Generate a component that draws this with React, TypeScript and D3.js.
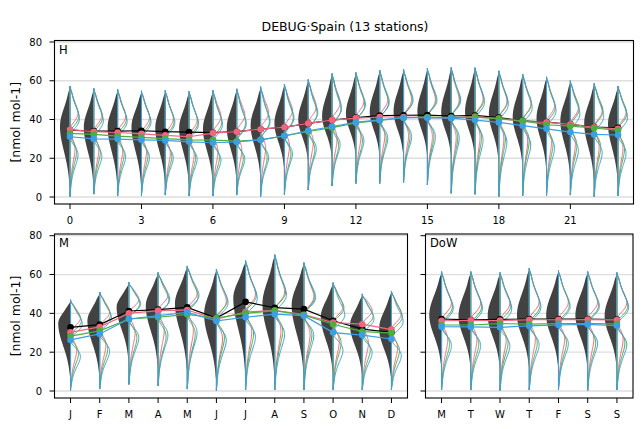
import React from "react";
import * as d3 from "d3";

// ---- categories / ticks ----
const hourTicks = [0, 3, 6, 9, 12, 15, 18, 21];
const monthLabels = ["J", "F", "M", "A", "M", "J", "J", "A", "S", "O", "N", "D"];
const dayLabels = ["M", "T", "W", "T", "F", "S", "S"];
const yTicks = [0, 20, 40, 60, 80];

// ---- hour of day (H) ----
const hourObs = [34.5, 34, 34, 34.2, 33.7, 33.5, 33.2, 33.7, 35, 36, 38, 39.7, 41, 42, 42.2, 42.3, 41.8, 42.1, 41, 39.3, 38.7, 37.5, 36.1, 35.7];
const hourModA = [34.7, 33.7, 33.3, 32.6, 31.8, 31.1, 33, 33.7, 35, 36, 38, 39.7, 40.7, 41.3, 41.3, 41, 40.8, 41.5, 40.5, 39, 38.5, 37.5, 36, 35.2];
const hourModB = [32.8, 32.3, 31.4, 30.8, 30.1, 29.5, 29.4, 28.8, 29.5, 31.5, 33.8, 35.8, 38.3, 39.5, 40.9, 41.2, 41, 41.2, 40.5, 39.3, 37.3, 36.6, 35.6, 34.4];
const hourModC = [31.1, 30, 29.9, 29.5, 29.2, 28.5, 28, 28.4, 29.5, 31.6, 34.2, 36.4, 38.5, 39.8, 40.9, 40.9, 40.7, 39.7, 38.5, 36.8, 35.2, 33.5, 32.3, 32];
const hourMax = [57.2, 56, 55.5, 54.8, 55, 54.5, 55, 55.8, 56.9, 58.2, 60.6, 63.7, 64.2, 65.4, 65.8, 66.3, 66.8, 66.7, 65.1, 63.4, 62, 60, 58.6, 57.2];
const hourObsLow = [3, 4, 4, 4, 5, 5, 6, 7, 9, 13, 17, 19, 20, 20, 20, 20, 20, 19, 17, 15, 13, 9, 7, 6];
const hourModLow = [0.2, 1.5, 0.5, 0.5, 1, 0.5, 0.5, 1, 0.2, 1.3, 3.6, 5.7, 7, 7, 7.5, 6.2, 1.9, 1.4, 0.2, 0.7, 0.5, 1, 0.2, 0.7];

// ---- month (M) ----
const monthObs = [32.8, 34.2, 41.2, 41.9, 43.1, 37.6, 45.9, 42.9, 42.2, 36.2, 31.9, 30.2];
const monthModA = [30.2, 33, 40, 41.4, 41.7, 37, 40.7, 41.5, 39.3, 35.3, 34.4, 31.6];
const monthModB = [28.3, 31, 37.1, 38, 39.5, 37.6, 40, 41.4, 39.1, 34.4, 30.6, 29.9];
const monthModC = [26.3, 29.4, 37.1, 38.8, 40.5, 36.1, 38, 39.6, 38.8, 30.1, 28.8, 26.8];
const monthMax = [47, 51, 56, 61, 64.4, 62.7, 67.1, 70.2, 66.1, 55.8, 50, 51.5];
const monthObsLow = [5, 6, 14, 11, 9, 4, 7, 6, 7, 8, 7, 5];
const monthModLow = [0.3, 1, 3.4, 2.6, 1, 0.3, 0.5, 0.5, 0.5, 0.5, 0.5, 0.5];

// ---- day of week (DoW) ----
const dayObs = [37.1, 36.6, 36.9, 37.1, 37.1, 37, 36.8];
const dayModA = [36.2, 36.4, 36.3, 36.7, 36.7, 36.8, 36.6];
const dayModB = [34, 34, 34.7, 34.5, 34.7, 34.7, 34.6];
const dayModC = [33.1, 33, 32.8, 33.5, 34, 34.3, 33.6];
const dayMax = [61.5, 61.5, 61, 63.2, 62, 61.5, 61];
const dayObsLow = [11, 11, 11, 11, 11, 11, 11];
const dayModLow = [0.5, 0.5, 0.3, 0.5, 0.5, 0.3, 0.5];

// ---- styling ----
const FONT = "DejaVu Sans, sans-serif";
const OBS_FILL = "#424242";
const MODELS = [
  { key: "a", color: "#f2657f", up: 0.8, low: 0.5 },
  { key: "b", color: "#4daf3b", up: 0.88, low: 0.65 },
  { key: "c", color: "#3b9fe3", up: 0.95, low: 0.8 },
];

const gauss = (d: number, s: number) => Math.exp(-0.5 * (d / s) * (d / s));
const taper = (v: number, lo: number, hi: number) => {
  const a = Math.max(0, hi - v);
  const b = Math.max(0, v - lo);
  return (1 - Math.exp(-(a / 2) * (a / 2))) * (1 - Math.exp(-(b / 2) * (b / 2)));
};
const samples = (lo: number, hi: number, n = 120) => d3.range(n + 1).map((i) => hi - ((hi - lo) * i) / n);

// observed half-violin profile (left side), normalised to 1 at its widest
function obsProfile(med: number, lo: number, hi: number) {
  const peak = med + 2;
  const sUp = Math.max(4, (hi - peak) / 2.2);
  const sDn = Math.max(4, (peak - lo) / 2.6);
  const vs = samples(lo, hi);
  const raw = vs.map((v) => (v >= peak ? gauss(v - peak, sUp) : gauss(v - peak, sDn)) * taper(v, lo, hi));
  const m = d3.max(raw) || 1;
  return vs.map((v, i) => [v, raw[i] / m] as [number, number]);
}

// modelled half-violin profile (right side), pinched at its median
function modProfile(med: number, lo: number, hi: number, up: number, low: number) {
  const sUp = Math.max(4, (hi - med) / 2.4);
  const sDn = Math.max(4, (med - lo) / 2.8);
  const notch = 5;
  const vs = samples(lo, hi);
  const raw = vs.map((v) => {
    const d = v - med;
    const g = d >= 0 ? gauss(d, sUp) : gauss(d, sDn);
    return g * (1 - gauss(d, notch)) * taper(v, lo, hi);
  });
  const mUp = d3.max(raw.filter((_, i) => vs[i] >= med)) || 1;
  const mDn = d3.max(raw.filter((_, i) => vs[i] < med)) || 1;
  return vs.map((v, i) => [v, v >= med ? (raw[i] / mUp) * up : (raw[i] / mDn) * low] as [number, number]);
}

type PanelDef = {
  name: string;
  left: number; right: number; top: number; bottom: number;
  y0: number; y80: number;
  xDomain: [number, number];
  ticks: number[];
  tickLabels: string[];
  showYLabels: boolean;
  halfW: number;
  obs: number[]; modA: number[]; modB: number[]; modC: number[];
  vmax: number[]; obsLow: number[]; modLow: number[];
  labelBaseline: number;
};

const panels: PanelDef[] = [
  {
    name: "H", left: 54.5, right: 633.5, top: 40.5, bottom: 204,
    y0: 197, y80: 42, xDomain: [-0.65, 23.65],
    ticks: hourTicks, tickLabels: hourTicks.map(String), showYLabels: true, halfW: 10,
    obs: hourObs, modA: hourModA, modB: hourModB, modC: hourModC,
    vmax: hourMax, obsLow: hourObsLow, modLow: hourModLow, labelBaseline: 223.5,
  },
  {
    name: "M", left: 54.5, right: 407.5, top: 234, bottom: 398,
    y0: 391, y80: 235.7, xDomain: [-0.55, 11.55],
    ticks: monthLabels.map((_, i) => i), tickLabels: monthLabels, showYLabels: true, halfW: 12.3,
    obs: monthObs, modA: monthModA, modB: monthModB, modC: monthModC,
    vmax: monthMax, obsLow: monthObsLow, modLow: monthModLow, labelBaseline: 418,
  },
  {
    name: "DoW", left: 425.5, right: 633, top: 234, bottom: 398,
    y0: 391, y80: 235.7, xDomain: [-0.55, 6.55],
    ticks: dayLabels.map((_, i) => i), tickLabels: dayLabels, showYLabels: false, halfW: 12.3,
    obs: dayObs, modA: dayModA, modB: dayModB, modC: dayModC,
    vmax: dayMax, obsLow: dayObsLow, modLow: dayModLow, labelBaseline: 418,
  },
];

function Panel({ p }: { p: PanelDef }) {
  const x = d3.scaleLinear().domain(p.xDomain).range([p.left, p.right]);
  const y = d3.scaleLinear().domain([0, 80]).range([p.y0, p.y80]);
  const line = d3.line<[number, number]>().x((d) => d[0]).y((d) => d[1]);
  const idx = p.obs.map((_, i) => i);
  const modSeries = [p.modA, p.modB, p.modC];

  return (
    <g>
      {/* grid */}
      {yTicks.map((t) => (
        <line key={"g" + t} x1={p.left} x2={p.right} y1={y(t)} y2={y(t)} stroke="#dedede" strokeWidth={1.3} />
      ))}

      {/* observed half violins */}
      {idx.map((i) => {
        const cx = x(i);
        const prof = obsProfile(p.obs[i], p.obsLow[i], p.vmax[i]);
        const pts = prof.map(([v, w]) => [cx - w * p.halfW, y(v)] as [number, number]);
        return <path key={"o" + i} d={line(pts) + `L${cx},${y(p.obsLow[i])}L${cx},${y(p.vmax[i])}Z`} fill={OBS_FILL} stroke="none" />;
      })}

      {/* modelled half violins (outlines) */}
      {MODELS.map((m, k) =>
        idx.map((i) => {
          const cx = x(i);
          const prof = modProfile(modSeries[k][i], p.modLow[i], p.vmax[i], m.up, m.low);
          const pts = prof.map(([v, w]) => [cx + w * p.halfW, y(v)] as [number, number]);
          return (
            <path key={m.key + i} d={line(pts) + `L${cx},${y(p.modLow[i])}L${cx},${y(p.vmax[i])}Z`}
              fill="none" stroke={m.color} strokeWidth={1} strokeLinejoin="round" />
          );
        })
      )}

      {/* medians */}
      {[{ vals: p.obs, color: "#000000" }, ...MODELS.map((m, k) => ({ vals: modSeries[k], color: m.color }))].map((s, k) => (
        <g key={"s" + k}>
          <path d={line(s.vals.map((v, i) => [x(i), y(v)] as [number, number])) || ""} fill="none" stroke={s.color} strokeWidth={1.2} />
          {s.vals.map((v, i) => (
            <circle key={i} cx={x(i)} cy={y(v)} r={3.3} fill={s.color} />
          ))}
        </g>
      ))}

      {/* frame */}
      <rect x={p.left} y={p.top} width={p.right - p.left} height={p.bottom - p.top} fill="none" stroke="#000" strokeWidth={1.1} />

      {/* y axis */}
      {yTicks.map((t) => (
        <g key={"y" + t}>
          <line x1={p.left - 5} x2={p.left} y1={y(t)} y2={y(t)} stroke="#000" strokeWidth={1} />
          {p.showYLabels && (
            <text x={p.left - 12.5} y={y(t)} dy="0.35em" textAnchor="end" fontSize={10} fontFamily={FONT} fill="#000">{t}</text>
          )}
        </g>
      ))}

      {/* x axis */}
      {p.ticks.map((t, i) => (
        <g key={"x" + i}>
          <line x1={x(t)} x2={x(t)} y1={p.bottom} y2={p.bottom + 5} stroke="#000" strokeWidth={1} />
          <text x={x(t)} y={p.labelBaseline} textAnchor="middle" fontSize={10} fontFamily={FONT} fill="#000">{p.tickLabels[i]}</text>
        </g>
      ))}

      <text x={p.left + 4.5} y={p.top + 13} fontSize={11.5} fontFamily={FONT} fill="#000">{p.name}</text>
      {p.showYLabels && (
        <text transform={`translate(16,${(p.top + p.bottom) / 2}) rotate(-90)`} textAnchor="middle" dy="0.35em"
          fontSize={12.5} fontFamily={FONT} fill="#000">[nmol mol-1]</text>
      )}
    </g>
  );
}

export default function App() {
  return (
    <svg width={643} height={429} style={{ position: "absolute", left: 0, top: 0, background: "#fff" }}>
      <rect width={643} height={429} fill="#fff" />
      <text x={345} y={30.5} textAnchor="middle" fontSize={12.5} fontFamily={FONT} fill="#000">DEBUG·Spain (13 stations)</text>
      {panels.map((p) => (
        <Panel key={p.name} p={p} />
      ))}
    </svg>
  );
}
